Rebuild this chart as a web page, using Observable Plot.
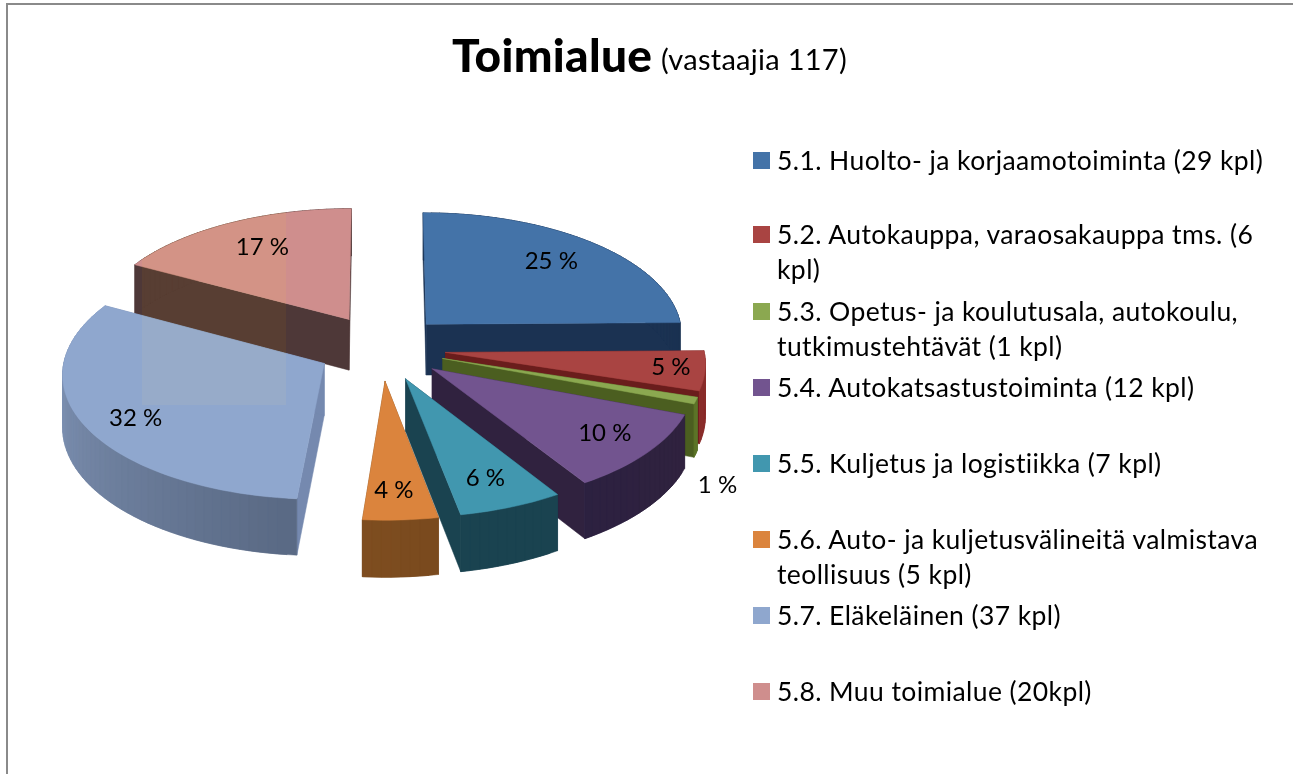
<!DOCTYPE html>
<html><head><meta charset="utf-8">
<script src="https://cdn.jsdelivr.net/npm/d3@7"></script>
<script src="https://cdn.jsdelivr.net/npm/@observablehq/plot@0.6"></script>
<style>
html,body{margin:0;padding:0;background:#fff;width:1293px;height:774px;overflow:hidden}
#page{position:relative;width:1293px;height:774px;font-family:Lato,"Open Sans",sans-serif;color:#000;isolation:isolate;background:#fff}
#page svg{position:absolute;left:0;top:0;background:none}
#frame{position:absolute;left:6px;top:3px;width:1285px;height:800px;border-left:2px solid #8a8a8a;border-top:2px solid #8a8a8a;border-right:2px solid #c8c8c8}
#tint{position:absolute;left:142px;top:205px;width:144px;height:200px;background:rgb(165,150,100);opacity:.55;mix-blend-mode:soft-light;pointer-events:none}
.ttl{position:absolute;white-space:nowrap;line-height:60px}
#t1{left:452px;top:25px;font-size:46px;font-weight:900;letter-spacing:.3px}
#t2{left:661px;top:29px;font-size:29px;letter-spacing:.27px}
.row{position:absolute;left:753px}
.sw{position:absolute;left:0;top:0;width:17px;height:17px}
.tx{position:absolute;left:24px;top:-9px;font-size:26.5px;line-height:35px;white-space:nowrap;letter-spacing:.41px}
</style></head>
<body><div id="page"><div id="frame"></div><div class="ttl" id="t1">Toimialue</div><div class="ttl" id="t2">(vastaajia 117)</div></div>
<script>
// data
const categories = ["5.1. Huolto- ja korjaamotoiminta (29 kpl)","5.2. Autokauppa, varaosakauppa tms. (6|kpl)","5.3. Opetus- ja koulutusala, autokoulu,|tutkimustehtävät (1 kpl)","5.4. Autokatsastustoiminta (12 kpl)","5.5. Kuljetus ja logistiikka (7 kpl)","5.6. Auto- ja kuljetusvälineitä valmistava|teollisuus (5 kpl)","5.7. Eläkeläinen (37 kpl)","5.8. Muu toimialue (20kpl)"];
const counts = [29,6,1,12,7,5,37,20];
const percentLabels = ["25 %","5 %","1 %","10 %","6 %","4 %","32 %","17 %"];
const topColors = ["#4473a8","#a94442","#8ba850","#72548f","#4197af","#db843d","#8fa7ce","#cf8e8d"];
const radialWallColors = ["#1b3252","#6a1d1c","#4b5e20","#30223f","#1a4350","#7a4a1e","#7589af","#4e3838"];
const rimFromColors = ["#1b3252","#8a2d2b","#5d7428","#30223f","#1a4350","#7a4a1e","#5a6a85","#4e3838"];
const rimToColors = ["#1b3252","#8a2d2b","#5d7428","#2c2140","#1a4350","#7f4e20","#8ea3c7","#4e3838"];
// label offsets from each slice's apex, in pie radii
const labelU = [.519,.861,.965,.629,.281,.031,-.694,-.364];
const labelV = [-.549,.122,.947,.489,.735,.801,.422,-.634];

// view settings
const W=1293,H=774,R=258,cx=381,cy=347;
const tilt=.477, persp=.075, depth=.2, explodeU=.25, explodeV=.27;

const project=(u,v,z=0)=>{const s=1/(1-persp*v);return [u*s,(v*tilt+z*depth)*s];};
const arcs=d3.pie().sort(null)(counts).map((a,i)=>{
  const mid=(a.startAngle+a.endAngle)/2;
  return {i,a0:a.startAngle,a1:a.endAngle,mid,ou:explodeU*Math.sin(mid),ov:-explodeV*Math.cos(mid)};
});
const rows=[];let pid=0;
const poly=(pts,color)=>{pid++;for(const [x,y] of [...pts,pts[0]])rows.push({id:pid,color,x,y});};
const order=[...arcs].sort((p,q)=>Math.cos(q.mid)-Math.cos(p.mid));
for(const s of order){
  const rim=(t,z)=>project(s.ou+Math.sin(t),s.ov-Math.cos(t),z);
  const apex=z=>project(s.ou,s.ov,z);
  const n=Math.max(3,Math.ceil((s.a1-s.a0)/(Math.PI/90)));
  const ts=d3.range(n+1).map(k=>s.a0+(s.a1-s.a0)*k/n);
  poly([apex(0),rim(s.a0,0),rim(s.a0,1),apex(1)],radialWallColors[s.i]);
  poly([apex(0),rim(s.a1,0),rim(s.a1,1),apex(1)],radialWallColors[s.i]);
  const mix=d3.interpolateRgb(rimFromColors[s.i],rimToColors[s.i]);
  for(let k=n-1;k>=0;k--){
    const b=Math.min(k+2,n);
    poly([...d3.range(k,b+1).map(j=>rim(ts[j],0)),...d3.range(b,k-1,-1).map(j=>rim(ts[j],1))],mix(k/n));
  }
  poly([apex(0),...ts.map(t=>rim(t,0))],topColors[s.i]);
}
const labels=arcs.map(s=>{const [x,y]=project(s.ou+labelU[s.i],s.ov+labelV[s.i]);return {x,y,t:percentLabels[s.i]};});

const chart=Plot.plot({
  width:W,height:H,margin:0,
  x:{domain:[-cx/R,(W-cx)/R],range:[0,W],axis:null},
  y:{domain:[-cy/R,(H-cy)/R],range:[0,H],axis:null},
  color:{type:"identity"},
  marks:[
    Plot.line(rows,{x:"x",y:"y",z:"id",fill:"color",stroke:"color",strokeWidth:.5}),
    Plot.text(labels,{x:"x",y:"y",text:"t",fontSize:24,fontFamily:"Lato,sans-serif",fill:"#000"})
  ]
});
const page=document.getElementById("page");
page.insertBefore(chart,document.getElementById("t1"));
const tint=document.createElement("div");tint.id="tint";page.appendChild(tint);
categories.forEach((c,i)=>{
  const r=document.createElement("div");r.className="row";
  r.style.top=(i==0?152:i==1?226:151+76*i)+"px";
  const sw=document.createElement("div");sw.className="sw";sw.style.background=topColors[i];r.appendChild(sw);
  const t=document.createElement("div");t.className="tx";t.innerHTML=c.split("|").join("<br>");
  t.style.top=(i<2?-9:-9)+"px";r.appendChild(t);
  page.appendChild(r);
});
</script></body></html>
